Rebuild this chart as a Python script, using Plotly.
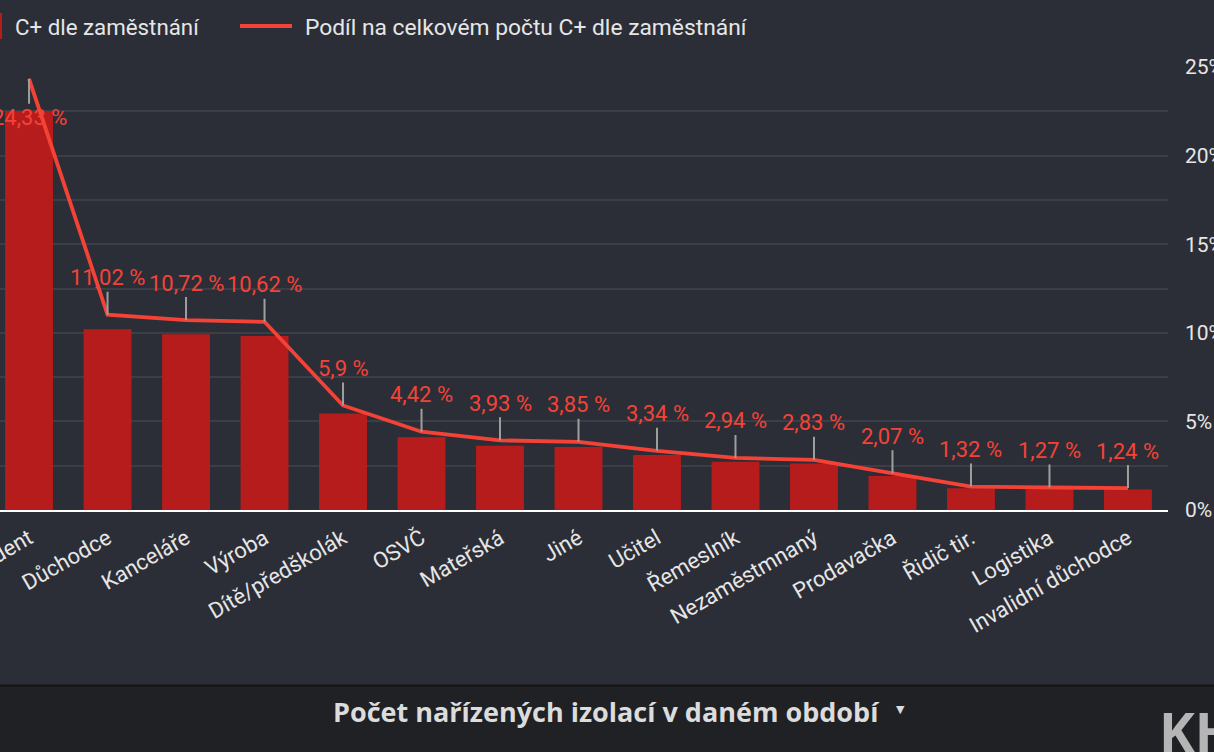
import plotly.graph_objects as go

# ---- data ----
categories = ["Student", "Důchodce", "Kanceláře", "Výroba", "Dítě/předškolák", "OSVČ",
              "Mateřská", "Jiné", "Učitel", "Řemeslník", "Nezaměstmnaný", "Prodavačka",
              "Řidič tir.", "Logistika", "Invalidní důchodce"]
counts = [900, 408, 397, 393, 218, 164, 145, 142, 124, 109, 105, 77, 49, 47, 46]
shares = [24.33, 11.02, 10.72, 10.62, 5.9, 4.42, 3.93, 3.85, 3.34, 2.94, 2.83, 2.07, 1.32, 1.27, 1.24]
share_labels = ["24,33 %", "11,02 %", "10,72 %", "10,62 %", "5,9 %", "4,42 %", "3,93 %", "3,85 %",
                "3,34 %", "2,94 %", "2,83 %", "2,07 %", "1,32 %", "1,27 %", "1,24 %"]
y2_ticks = [0, 5, 10, 15, 20, 25]
bar_name = "C+ dle zaměstnání"
line_name = "Podíl na celkovém počtu C+ dle zaměstnání"
footer_text = "Počet nařízených izolací v daném období"

# ---- style ----
W, H = 1214, 752
PT, PB, PR = 67, 510, 1168          # plot area pixel edges
BG = "#2c2e37"
STRIP = "#202124"
GRID = "#3b3e47"
BAR = "#b71c1c"
LINE = "#f44336"
TXT = "#e6e6e6"
FONT = "Roboto"

def px_x(p):
    return p / PR

def px_y(p):
    return (PB - p) / (PB - PT)

fig = go.Figure()
fig.add_trace(go.Bar(x=categories, y=counts, name=bar_name, marker_color=BAR,
                     marker_line_width=0, yaxis="y", showlegend=False))
fig.add_trace(go.Scatter(x=categories, y=shares, name=line_name, mode="lines",
                         line=dict(color=LINE, width=3.8), yaxis="y2", showlegend=False,
                         cliponaxis=False))

annotations = []
for i, (c, v, t) in enumerate(zip(categories, shares, share_labels)):
    below = (i == 0)
    annotations.append(dict(
        x=c, y=v, xref="x", yref="y2", text=t, showarrow=True,
        arrowhead=0, arrowwidth=2, arrowcolor="#9e9e9e",
        ax=0, ay=(39 if below else -37),
        font=dict(family=FONT, size=22, color=LINE),
        standoff=0, startstandoff=0,
    ))

# legend (manual)
annotations.append(dict(x=px_x(13), y=px_y(27), xref="paper", yref="paper", text=bar_name,
                        showarrow=False, xanchor="left", yanchor="middle",
                        font=dict(family=FONT, size=22.3, color=TXT)))
annotations.append(dict(x=px_x(303), y=px_y(27), xref="paper", yref="paper", text=line_name,
                        showarrow=False, xanchor="left", yanchor="middle",
                        font=dict(family=FONT, size=22.8, color=TXT)))
# footer
annotations.append(dict(x=px_x(606), y=px_y(711), xref="paper", yref="paper",
                        text="<b>" + footer_text + "</b>",
                        showarrow=False, xanchor="center", yanchor="middle",
                        font=dict(family="Open Sans", size=27, color="#dcdcdc")))
annotations.append(dict(x=px_x(901), y=px_y(709), xref="paper", yref="paper", text="▼",
                        showarrow=False, xanchor="center", yanchor="middle",
                        font=dict(family="DejaVu Sans", size=11, color="#dcdcdc")))
annotations.append(dict(x=px_x(1157), y=px_y(731), xref="paper", yref="paper", text="<b>KH</b>",
                        showarrow=False, xanchor="left", yanchor="middle",
                        font=dict(family="Open Sans", size=54, color="#b5b5b5")))

shapes = [
    dict(type="rect", xref="paper", yref="paper", x0=px_x(-20), x1=px_x(1300),
         y0=px_y(686), y1=px_y(800), fillcolor=STRIP, line_width=0, layer="below"),
    dict(type="line", xref="paper", yref="paper", x0=px_x(-20), x1=px_x(1300),
         y0=px_y(685.5), y1=px_y(685.5), line=dict(color="#141414", width=2)),
    dict(type="rect", xref="paper", yref="paper", x0=px_x(-12), x1=px_x(2),
         y0=px_y(39), y1=px_y(13), fillcolor=BAR, line_width=0),
    dict(type="line", xref="paper", yref="paper", x0=px_x(240), x1=px_x(292),
         y0=px_y(26), y1=px_y(26), line=dict(color=LINE, width=3.8)),
]

fig.update_layout(
    width=W, height=H,
    margin=dict(l=0, r=W - PR, t=PT, b=H - PB, autoexpand=False),
    paper_bgcolor=BG, plot_bgcolor=BG,
    bargap=0.39,
    showlegend=False,
    font=dict(family=FONT, color=TXT),
    xaxis=dict(range=[-0.37, 14.51], tickangle=-30, tickfont=dict(family=FONT, size=22, color=TXT),
               showgrid=False, showline=True, linecolor="#ffffff", linewidth=2,
               ticks="outside", ticklen=5, tickcolor="rgba(0,0,0,0)", automargin=False),
    yaxis=dict(range=[0, 1000], dtick=100, showticklabels=False, gridcolor=GRID, gridwidth=1.5,
               zeroline=False, automargin=False),
    yaxis2=dict(range=[0, 25], tickvals=y2_ticks, ticktext=[f"{v}%" for v in y2_ticks],
                overlaying="y", side="right", showgrid=False, zeroline=False,
                tickfont=dict(family=FONT, size=21, color=TXT), ticklabelstandoff=16,
                automargin=False),
    annotations=annotations,
    shapes=shapes,
)

fig.write_html("out.html", config={"displayModeBar": False},
               post_script="document.body.style.margin='0';document.body.style.overflow='hidden';")
